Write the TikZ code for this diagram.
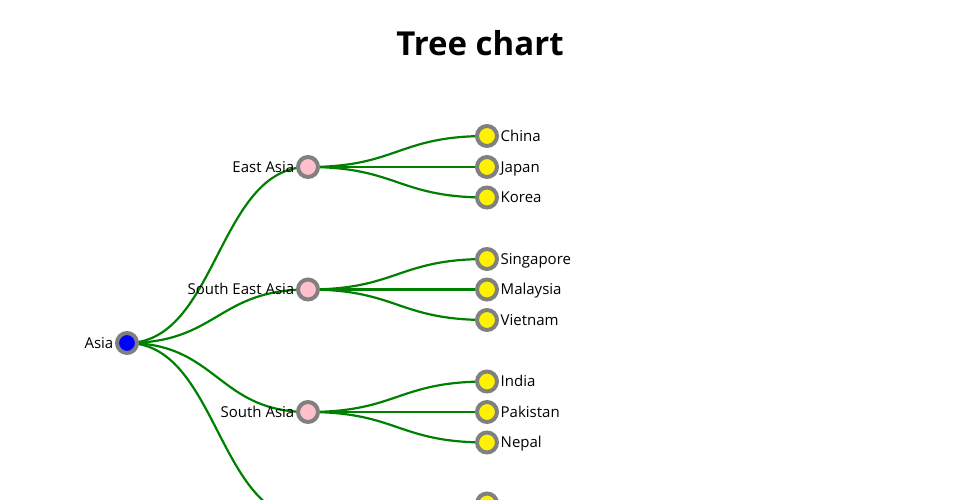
\documentclass[tikz,border=0pt]{standalone}
\usepackage{fontspec}
\setmainfont{Open Sans}
\definecolor{nodepink}{RGB}{255,192,203}
\definecolor{linkgreen}{RGB}{0,128,0}
\pgfdeclarelayer{bg}
\pgfsetlayers{bg,main}

\begin{document}
\begin{tikzpicture}[x=1pt,y=-1pt,
  dot/.style={circle,draw=gray,line width=4pt,minimum size=20pt,inner sep=0pt},
  link/.style={draw=linkgreen,line width=2.2pt},
  lbl/.style={font=\fontsize{15}{18}\selectfont,inner sep=1.5pt,label distance=0pt,
    text height=1em,text depth=0pt}]
\useasboundingbox (0,0) rectangle (960,500);
\clip (0,0) rectangle (960,500);
\node[font=\bfseries\fontsize{33}{40}\selectfont,anchor=base] (title) at (480,55.5) {Tree chart};
% root and regions
\node[dot,fill=blue,label={[lbl]left:Asia}] (asia) at (127,343) {};
\foreach \name/\y/\txt in {ea/167/East Asia,sea/289.5/South East Asia,sa/412/South Asia}
  \node[dot,fill=nodepink,label={[lbl]left:\txt}] (\name) at (308,\y) {};
\node[dot,fill=nodepink] (wa) at (308,519) {};
% countries
\foreach \name/\y/\txt in {china/136/China,japan/167/Japan,korea/197.5/Korea,
    sing/259/Singapore,malay/289.5/Malaysia,viet/320/Vietnam,
    india/381.5/India,pak/412/Pakistan,nepal/442.5/Nepal}
  \node[dot,fill=yellow,label={[lbl]right:\txt}] (\name) at (487,\y) {};
\node[dot,fill=yellow] (wleaf) at (487,503.5) {};
\begin{pgfonlayer}{bg}
\foreach \c in {ea,sea,sa,wa}
  \draw[link] (asia.center) .. controls +(90.5,0) and +(-90.5,0) .. (\c.center);
\foreach \p/\c in {ea/china,ea/japan,ea/korea,sea/sing,sea/malay,sea/viet,
    sa/india,sa/pak,sa/nepal,wa/wleaf}
  \draw[link] (\p.center) .. controls +(89.5,0) and +(-89.5,0) .. (\c.center);
\end{pgfonlayer}
\end{tikzpicture}
\end{document}
